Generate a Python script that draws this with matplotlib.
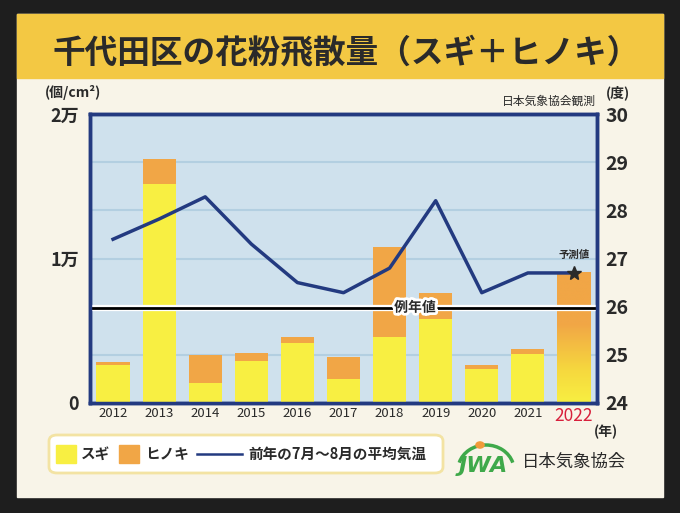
import numpy as np
import matplotlib.pyplot as plt
from matplotlib.patches import Rectangle, FancyBboxPatch, Arc
from matplotlib.colors import LinearSegmentedColormap
import matplotlib.patheffects as pe

plt.rcParams['font.family'] = ['Noto Sans CJK JP', 'DejaVu Sans']

# データ
years = ['2012', '2013', '2014', '2015', '2016', '2017', '2018', '2019', '2020', '2021', '2022']
sugi = [2630, 15160, 1360, 2930, 4170, 1680, 4590, 5790, 2330, 3370]      # スギ (個/cm2)
hinoki = [230, 1730, 1960, 550, 380, 1520, 6230, 1800, 300, 390]          # ヒノキ
forecast_2022 = 9070                                                      # 予測値
temp = [27.40, 27.82, 28.28, 27.30, 26.50, 26.29, 26.80, 28.20, 26.29, 26.70, 26.70]  # 前年7-8月平均気温
normal = 6600                                                             # 例年値

c_dark = '#1e1e1e'
c_head = '#f3c843'
c_cream = '#f8f4e8'
c_plot = '#cfe1ed'
c_grid = '#b3cfe1'
c_navy = '#233a80'
c_yellow = '#f8ef42'
c_orange = '#f1a646'
c_text = '#2a2a2a'

fig = plt.figure(figsize=(6.8, 5.13), dpi=100)
fig.patch.set_facecolor(c_dark)

def fx(px):
    return px / 680
def fy(py):
    return 1 - py / 513

# 背景カード
fig.patches.append(Rectangle((fx(17), fy(497)), fx(646), (497 - 14) / 513,
                             transform=fig.transFigure, color=c_cream, zorder=-10))
fig.patches.append(Rectangle((fx(17), fy(78)), fx(646), 64 / 513,
                             transform=fig.transFigure, color=c_head, zorder=-9))
fig.text(fx(346), fy(54), '千代田区の花粉飛散量（スギ＋ヒノキ）', ha='center', va='center',
         fontsize=23.5, fontweight='bold', color=c_text)

ax = fig.add_axes([fx(90), fy(403), fx(597 - 90), (403 - 114) / 513])
ax.set_facecolor(c_plot)
ax2 = ax.twinx()

x = np.arange(len(years))
w = 0.72
n = len(sugi)
ax.bar(x[:n], sugi, w, color=c_yellow, zorder=3)
ax.bar(x[:n], hinoki, w, bottom=sugi, color=c_orange, zorder=3)

# 2022 予測値 (グラデーション)
bar22 = ax.bar(x[-1], forecast_2022, w, color='none', zorder=3)[0]
cmap = LinearSegmentedColormap.from_list('g', [(0, c_yellow), (0.25, '#f6d83e'), (0.6, c_orange), (1, c_orange)])
grad = np.linspace(0, 1, 256).reshape(-1, 1)
im = ax.imshow(grad, cmap=cmap, origin='lower', aspect='auto', zorder=3,
               extent=[x[-1] - w / 2, x[-1] + w / 2, 0, forecast_2022])
im.set_clip_path(bar22)

ax.set_xlim(-0.5, len(years) - 0.5)
ax.set_ylim(0, 20000)
ax.set_yticks([0, 10000, 20000])
ax.set_yticklabels(['0', '1万', '2万'], fontsize=13, fontweight='bold', color=c_text)
ax.set_xticks(x)
ax.set_xticklabels(years, fontsize=9.5, color=c_text)
lbl = ax.get_xticklabels()[-1]
lbl.set_color('#d8203c')
lbl.set_fontsize(12.5)
ax.tick_params(length=0, pad=3)
ax.tick_params(axis='y', pad=8)

# 例年値
ax.axhline(normal, color='black', lw=2, zorder=4,
           path_effects=[pe.Stroke(linewidth=4.5, foreground='white'), pe.Normal()])
ax.text(6.55, normal, '例年値', ha='center', va='center', fontsize=10, fontweight='bold',
        color=c_text, zorder=5, path_effects=[pe.withStroke(linewidth=4, foreground='white')])

# 気温
ax2.set_ylim(24, 30)
ax2.set_yticks(range(24, 31))
ax2.set_yticklabels([str(v) for v in range(24, 31)], fontsize=14, fontweight='bold', color=c_text)
ax2.tick_params(length=0, pad=6)
for t in range(25, 30):
    ax.axhline((t - 24) / 6 * 20000, color=c_grid, lw=1.5, zorder=1)
ax2.plot(x, temp, color=c_navy, lw=2.5, zorder=6)
ax2.plot(x[-1], temp[-1], marker='*', ms=10, color=c_text, zorder=7)
ax2.text(x[-1], temp[-1] + 0.28, '予測値', ha='center', va='bottom', fontsize=7.5,
         fontweight='bold', color=c_text)

for a in (ax, ax2):
    for s in a.spines.values():
        s.set_color(c_navy)
        s.set_linewidth(2.5)

# 単位など
fig.text(fx(45), fy(93), '(個/cm²)', ha='left', va='center', fontsize=10, fontweight='bold',
         color=c_text)
fig.text(fx(606), fy(93), '(度)', ha='left', va='center', fontsize=10, fontweight='bold',
         color=c_text)
fig.text(fx(596), fy(101), '日本気象協会観測', ha='right', va='center', fontsize=8.5, color=c_text)
fig.text(fx(594), fy(432), '(年)', ha='left', va='center', fontsize=10, fontweight='bold',
         color=c_text)

# 凡例
fig.patches.append(FancyBboxPatch((fx(49), fy(473)), fx(394), 38 / 513,
                                  boxstyle='round,pad=0,rounding_size=0.012',
                                  transform=fig.transFigure, facecolor='white',
                                  edgecolor='#f3e3a3', lw=2, zorder=1))
fig.patches.append(Rectangle((fx(56), fy(463)), fx(20), 18 / 513, transform=fig.transFigure,
                             color=c_yellow, zorder=2))
fig.text(fx(81), fy(454), 'スギ', ha='left', va='center', fontsize=10.5, fontweight='bold',
         color=c_text)
fig.patches.append(Rectangle((fx(119), fy(463)), fx(20), 18 / 513, transform=fig.transFigure,
                             color=c_orange, zorder=2))
fig.text(fx(145), fy(454), 'ヒノキ', ha='left', va='center', fontsize=10.5, fontweight='bold',
         color=c_text)
fig.lines.append(plt.Line2D([fx(197), fx(242)], [fy(454), fy(454)], transform=fig.transFigure,
                            color=c_navy, lw=1.8))
fig.text(fx(248), fy(454), '前年の7月～8月の平均気温', ha='left', va='center', fontsize=10.5,
         fontweight='bold', color=c_text)

# ロゴ
fig.patches.append(Arc((fx(486), fy(470)), fx(56), 50 / 513, theta1=20, theta2=160,
                       transform=fig.transFigure, color='#3fa94a', lw=2.5, zorder=2))
fig.text(fx(459), fy(466), 'JWA', ha='left', va='center', fontsize=16, fontweight='bold',
         style='italic', color='#3fa94a', family='DejaVu Sans')
fig.patches.append(plt.Circle((fx(480), fy(445)), 0.006, transform=fig.transFigure,
                              color='#f29a3a', zorder=3))
fig.text(fx(522), fy(462), '日本気象協会', ha='left', va='center', fontsize=12.5, color=c_text)

fig.savefig('out.png', dpi=100, facecolor=fig.get_facecolor())
